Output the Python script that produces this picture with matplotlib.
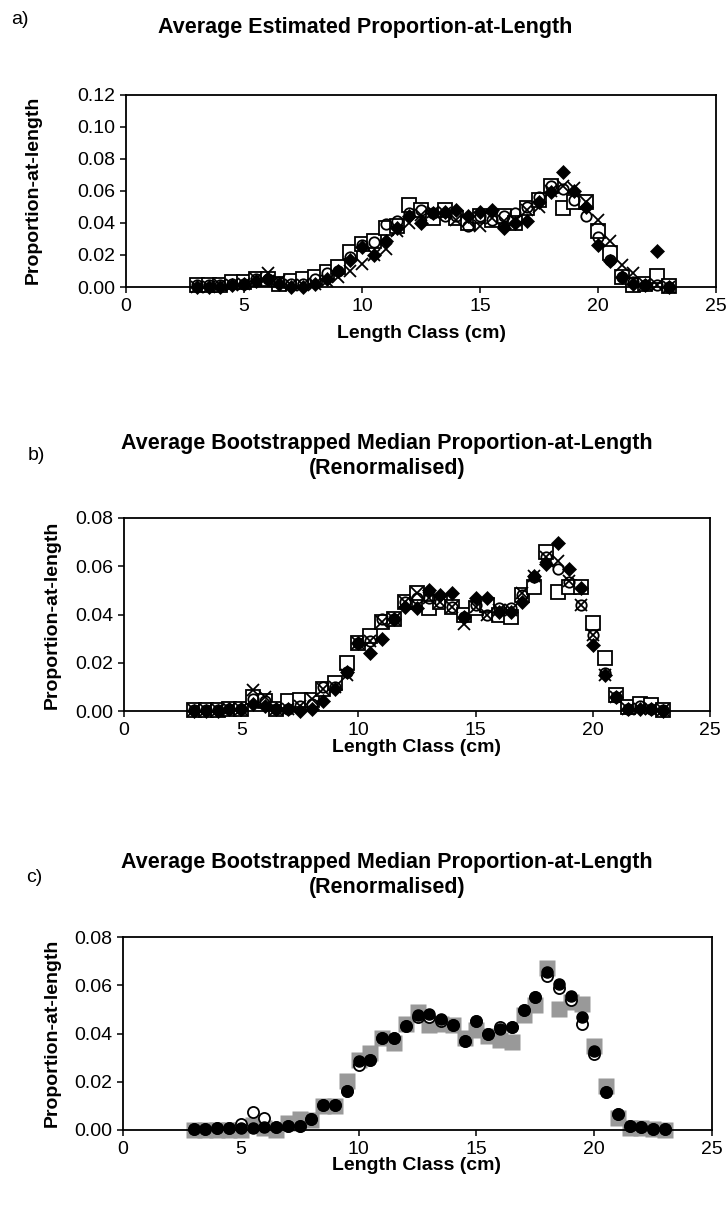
import matplotlib
matplotlib.use("Agg")
import matplotlib.pyplot as plt

plt.rcParams['font.family'] = ['Liberation Sans', 'DejaVu Sans']

# ---------------- data ----------------
length_class = [3.0, 3.5, 4.0, 4.5, 5.0, 5.5, 6.0, 6.5, 7.0, 7.5, 8.0, 8.5, 9.0, 9.5,
                10.0, 10.5, 11.0, 11.5, 12.0, 12.5, 13.0, 13.5, 14.0, 14.5, 15.0, 15.5,
                16.0, 16.5, 17.0, 17.5, 18.0, 18.5, 19.0, 19.5, 20.0, 20.5, 21.0, 21.5,
                22.0, 22.5, 23.0]

# panel a) average estimated proportion-at-length
a_diamond = [0.000, 0.000, 0.000, 0.001, 0.002, 0.004, 0.005, 0.002, 0.000, 0.000, 0.002,
             0.005, 0.010, 0.017, 0.025, 0.020, 0.029, 0.037, 0.044, 0.040, 0.046, 0.047,
             0.048, 0.044, 0.047, 0.048, 0.037, 0.040, 0.041, 0.053, 0.059, 0.072, 0.060,
             0.050, 0.026, 0.016, 0.006, 0.002, 0.001, 0.0225, 0.000]
a_square = [0.001, 0.001, 0.001, 0.003, 0.003, 0.005, 0.005, 0.002, 0.004, 0.005, 0.006,
            0.0096, 0.0127, 0.0217, 0.027, 0.029, 0.037, 0.038, 0.051, 0.048, 0.043, 0.048,
            0.043, 0.040, 0.044, 0.042, 0.044, 0.040, 0.049, 0.054, 0.063, 0.049, 0.053,
            0.053, 0.035, 0.021, 0.0065, 0.001, 0.002, 0.007, 0.0006]
a_circle = [0.001, 0.001, 0.001, 0.002, 0.002, 0.005, 0.005, 0.003, 0.002, 0.002, 0.005,
            0.009, 0.010, 0.019, 0.026, 0.028, 0.039, 0.041, 0.046, 0.048, 0.046, 0.044,
            0.044, 0.038, 0.044, 0.042, 0.044, 0.046, 0.050, 0.056, 0.063, 0.061, 0.054,
            0.044, 0.031, 0.017, 0.0065, 0.003, 0.001, 0.001, 0.000]
a_cross = [0.000, 0.000, 0.001, 0.001, 0.002, 0.005, 0.0085, 0.004, 0.001, 0.001, 0.002,
           0.004, 0.006, 0.010, 0.0144, 0.020, 0.024, 0.035, 0.040, 0.045, 0.047, 0.046,
           0.042, 0.041, 0.038, 0.043, 0.041, 0.042, 0.048, 0.050, 0.060, 0.063, 0.062,
           0.053, 0.042, 0.029, 0.014, 0.0085, 0.002, 0.001, 0.000]

# panel b) average bootstrapped median proportion-at-length (renormalised)
b_diamond = [0.000, 0.000, 0.000, 0.001, 0.001, 0.003, 0.002, 0.001, 0.001, 0.000, 0.001,
             0.004, 0.009, 0.016, 0.028, 0.024, 0.030, 0.038, 0.043, 0.0425, 0.050, 0.048,
             0.049, 0.039, 0.047, 0.047, 0.041, 0.041, 0.045, 0.056, 0.061, 0.0695, 0.059,
             0.051, 0.0274, 0.015, 0.006, 0.001, 0.001, 0.001, 0.000]
b_square = [0.0004, 0.0004, 0.0006, 0.001, 0.001, 0.006, 0.004, 0.001, 0.004, 0.0045, 0.0045,
            0.009, 0.0115, 0.020, 0.028, 0.031, 0.037, 0.038, 0.045, 0.049, 0.0425, 0.045,
            0.043, 0.040, 0.0425, 0.044, 0.040, 0.039, 0.048, 0.0515, 0.066, 0.0495, 0.0515,
            0.0515, 0.0366, 0.022, 0.0066, 0.0018, 0.003, 0.0025, 0.0004]
b_circle = [0.0003, 0.0003, 0.0005, 0.001, 0.001, 0.005, 0.004, 0.001, 0.001, 0.002, 0.003,
            0.010, 0.010, 0.016, 0.028, 0.029, 0.038, 0.038, 0.045, 0.047, 0.047, 0.045,
            0.043, 0.039, 0.044, 0.040, 0.0425, 0.0425, 0.048, 0.0557, 0.064, 0.059, 0.0536,
            0.044, 0.0315, 0.0156, 0.006, 0.001, 0.002, 0.001, 0.0003]
b_cross = [0.0003, 0.0003, 0.0005, 0.001, 0.001, 0.0087, 0.006, 0.001, 0.001, 0.002, 0.005,
           0.009, 0.010, 0.015, 0.028, 0.029, 0.037, 0.038, 0.045, 0.049, 0.047, 0.045,
           0.043, 0.036, 0.043, 0.040, 0.042, 0.042, 0.049, 0.056, 0.064, 0.062, 0.054,
           0.044, 0.0315, 0.015, 0.006, 0.001, 0.001, 0.001, 0.0003]

# panel c)
c_grey = [0.000, 0.000, 0.000, 0.000, 0.000, 0.002, 0.001, 0.000, 0.003, 0.0044, 0.004,
          0.010, 0.010, 0.0205, 0.029, 0.032, 0.038, 0.036, 0.044, 0.049, 0.0435, 0.044,
          0.0435, 0.038, 0.0414, 0.039, 0.0375, 0.0366, 0.0476, 0.052, 0.067, 0.050, 0.053,
          0.0524, 0.0348, 0.0183, 0.005, 0.001, 0.001, 0.0005, 0.000]
c_open = [0.0003, 0.0003, 0.0007, 0.0007, 0.0025, 0.0076, 0.005, 0.0014, 0.0018, 0.0018, 0.0044,
          0.0103, 0.0103, 0.0163, 0.027, 0.029, 0.038, 0.038, 0.043, 0.0469, 0.047, 0.045,
          0.0437, 0.037, 0.045, 0.0397, 0.0428, 0.0428, 0.0497, 0.055, 0.064, 0.059, 0.054,
          0.044, 0.0317, 0.0156, 0.0066, 0.0018, 0.0014, 0.0004, 0.0004]
c_black = [0.0003, 0.0003, 0.0007, 0.0007, 0.0007, 0.001, 0.0014, 0.0014, 0.0018, 0.0018, 0.0044,
           0.0103, 0.0103, 0.0163, 0.0287, 0.029, 0.038, 0.038, 0.043, 0.0476, 0.048, 0.046,
           0.0437, 0.037, 0.045, 0.0397, 0.042, 0.0428, 0.0497, 0.055, 0.0655, 0.0607, 0.0554,
           0.047, 0.0328, 0.0156, 0.0066, 0.0018, 0.0014, 0.0004, 0.0004]

x_ticks = [0, 5, 10, 15, 20, 25]
a_yticks = [0.00, 0.02, 0.04, 0.06, 0.08, 0.10, 0.12]
bc_yticks = [0.00, 0.02, 0.04, 0.06, 0.08]

title_a = "Average Estimated Proportion-at-Length"
title_bc = "Average Bootstrapped Median Proportion-at-Length\n(Renormalised)"
xlabel = "Length Class (cm)"
ylabel = "Proportion-at-length"

# ---------------- figure ----------------
W, H = 728, 1205
fig = plt.figure(figsize=(W / 100, H / 100), dpi=100)


def rect(l, r, t, b):
    return [l / W, 1 - b / H, (r - l) / W, (b - t) / H]


def style(ax, yticks):
    ax.set_xlim(0, 25)
    ax.set_ylim(yticks[0], yticks[-1])
    ax.set_xticks(x_ticks)
    ax.set_yticks(yticks)
    ax.set_xticklabels([str(t) for t in x_ticks])
    ax.set_yticklabels([f"{t:.2f}" for t in yticks])
    ax.tick_params(direction='out', length=4, width=1.1, labelsize=14, pad=4,
                   top=False, right=False)
    for s in ax.spines.values():
        s.set_linewidth(1.3)
        s.set_color('black')
    ax.set_facecolor('white')


def fpx(x, y):
    return x / W, 1 - y / H


ms_kw = dict(linestyle='none', clip_on=False)

# panel a
axa = fig.add_axes(rect(126, 716, 94.6, 287))
axa.plot(length_class, a_square, marker='s', markersize=9.5, mfc='white', mec='black', mew=1.3, **ms_kw)
axa.plot(length_class, a_diamond, marker='D', markersize=7.5, mfc='black', mec='black', mew=0.5, **ms_kw)
axa.plot(length_class, a_circle, marker='o', markersize=7.5, mfc='none', mec='black', mew=1.3, **ms_kw)
axa.plot(length_class, a_cross, marker='x', markersize=9, mec='black', mew=1.3, **ms_kw)
style(axa, a_yticks)

# panel b
axb = fig.add_axes(rect(124, 710, 518, 711))
axb.plot(length_class, b_square, marker='s', markersize=9.5, mfc='white', mec='black', mew=1.3, **ms_kw)
axb.plot(length_class, b_diamond, marker='D', markersize=7.5, mfc='black', mec='black', mew=0.5, **ms_kw)
axb.plot(length_class, b_circle, marker='o', markersize=7.5, mfc='none', mec='black', mew=1.3, **ms_kw)
axb.plot(length_class, b_cross, marker='x', markersize=9, mec='black', mew=1.3, **ms_kw)
style(axb, bc_yticks)

# panel c
axc = fig.add_axes(rect(123, 712, 937, 1130))
axc.plot(length_class, c_grey, marker='s', markersize=12, mfc='#999999', mec='none', **ms_kw)
axc.plot(length_class, c_open, marker='o', markersize=8, mfc='white', mec='black', mew=1.3, **ms_kw)
axc.plot(length_class, c_black, marker='o', markersize=8, mfc='black', mec='black', mew=1.0, **ms_kw)
style(axc, bc_yticks)

# texts
tkw = dict(fontsize=15.5, fontweight='bold', ha='center', va='center')
lkw = dict(fontsize=14, fontweight='bold', ha='center', va='center')
fig.text(*fpx(20, 19), "a)", fontsize=14, ha='center', va='center')
fig.text(*fpx(365, 27), title_a, **tkw)
fig.text(*fpx(421, 333), xlabel, **lkw)
fig.text(*fpx(33, 190), ylabel, rotation=90, **lkw)

fig.text(*fpx(36, 455), "b)", fontsize=14, ha='center', va='center')
fig.text(*fpx(387, 456), title_bc, linespacing=1.2, **tkw)
fig.text(*fpx(417, 747), xlabel, **lkw)
fig.text(*fpx(52, 615), ylabel, rotation=90, **lkw)

fig.text(*fpx(34, 877), "c)", fontsize=14, ha='center', va='center')
fig.text(*fpx(387, 875), title_bc, linespacing=1.2, **tkw)
fig.text(*fpx(417, 1166), xlabel, **lkw)
fig.text(*fpx(52, 1033), ylabel, rotation=90, **lkw)

fig.savefig("out.png", dpi=100, facecolor='white')
